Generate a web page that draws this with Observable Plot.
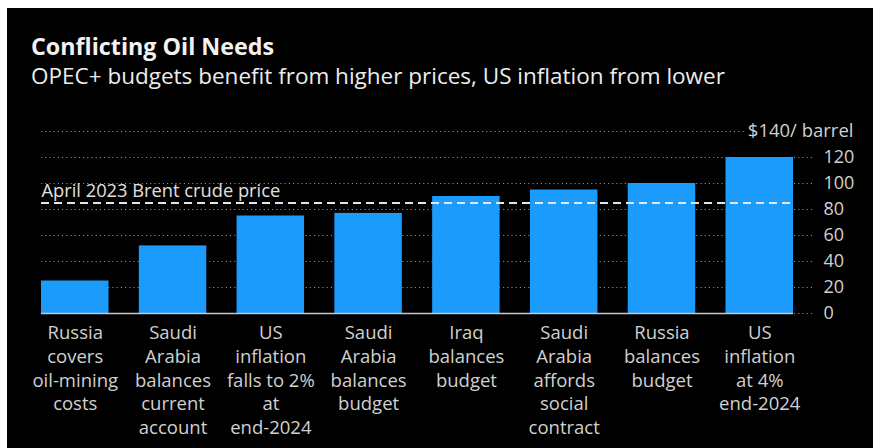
<!DOCTYPE html>
<html>
<head>
<meta charset="utf-8">
<script src="https://cdn.jsdelivr.net/npm/d3@7"></script>
<script src="https://cdn.jsdelivr.net/npm/@observablehq/plot@0.6"></script>
<style>
  html, body { margin: 0; padding: 0; background: #ffffff; width: 894px; height: 448px; overflow: hidden; }
  body { position: relative; font-family: "Open Sans", Roboto, sans-serif; }
  #panel { position: absolute; left: 7px; top: 8px; width: 866px; height: 440px; background: #000; }
  #title { position: absolute; left: 31px; top: 35.3px; font-size: 23.3px; font-weight: 700; color: #f2f2f2; line-height: 1; white-space: nowrap; }
  #subtitle { position: absolute; left: 31px; top: 65px; font-size: 22.5px; font-weight: 400; color: #ececec; line-height: 1; white-space: nowrap; }
  #chart { position: absolute; left: 0; top: 100px; }
</style>
</head>
<body>
<div id="panel"></div>
<div id="title">Conflicting Oil Needs</div>
<div id="subtitle">OPEC+ budgets benefit from higher prices, US inflation from lower</div>
<div id="chart"></div>
<script>
const categories = [
  "Russia\ncovers\noil-mining\ncosts",
  "Saudi\nArabia\nbalances\ncurrent\naccount",
  "US\ninflation\nfalls to 2%\nat\nend-2024",
  "Saudi\nArabia\nbalances\nbudget",
  "Iraq\nbalances\nbudget",
  "Saudi\nArabia\naffords\nsocial\ncontract",
  "Russia\nbalances\nbudget",
  "US\ninflation\nat 4%\nend-2024"
];
const values = [25, 52, 75, 77, 90, 95, 100, 120];
const yTicks = [0, 20, 40, 60, 80, 100, 120];
const gridTicks = [20, 40, 60, 80, 100, 120, 140];
const brentPrice = 85;
const brentLabel = "April 2023 Brent crude price";
const topValue = 140;
const topLabel = "$140/ barrel";

const data = categories.map((c, i) => ({category: c, value: values[i]}));

const chart = Plot.plot({
  width: 894,
  height: 348,
  marginLeft: 41,
  marginRight: 101,
  marginTop: 31,
  marginBottom: 135,
  style: {background: "none", fontFamily: "'Open Sans', Roboto, sans-serif"},
  x: {domain: categories, range: [41, 793], paddingInner: 0.31, paddingOuter: 0, round: false},
  y: {domain: [0, 140]},
  marks: [
    Plot.gridY(gridTicks, {stroke: "#8c8c8c", strokeOpacity: 1, strokeDasharray: "1.2,3"}),
    Plot.barY(data, {x: "category", y: "value", fill: "#1b9bfb"}),
    Plot.ruleY([0], {stroke: "#c8c8c8", strokeWidth: 1.5}),
    Plot.ruleY([brentPrice], {stroke: "#e6e6e6", strokeWidth: 2, strokeDasharray: "8,5"}),
    Plot.text([{v: brentPrice, t: brentLabel}], {y: "v", text: "t", frameAnchor: "left", textAnchor: "start", lineAnchor: "bottom", dy: -6, fill: "#e0e0e0", fontSize: 18.3}),
    Plot.text([{v: topValue, t: topLabel}], {y: "v", text: "t", frameAnchor: "right", textAnchor: "end", lineAnchor: "middle", dx: 60, fill: "#d0d0d0", stroke: "#000", strokeWidth: 10, fontSize: 18.5}),
    Plot.axisY(yTicks, {anchor: "right", tickSize: 20, tickPadding: 10, stroke: "#8c8c8c", strokeDasharray: "1.2,3", fill: "#d0d0d0", fontSize: 18, label: null}),
    Plot.axisX({tickSize: 0, tickPadding: 9, fill: "#d0d0d0", fontSize: 18.5, lineHeight: 1.281, label: null})
  ]
});
document.getElementById("chart").appendChild(chart);
</script>
</body>
</html>
